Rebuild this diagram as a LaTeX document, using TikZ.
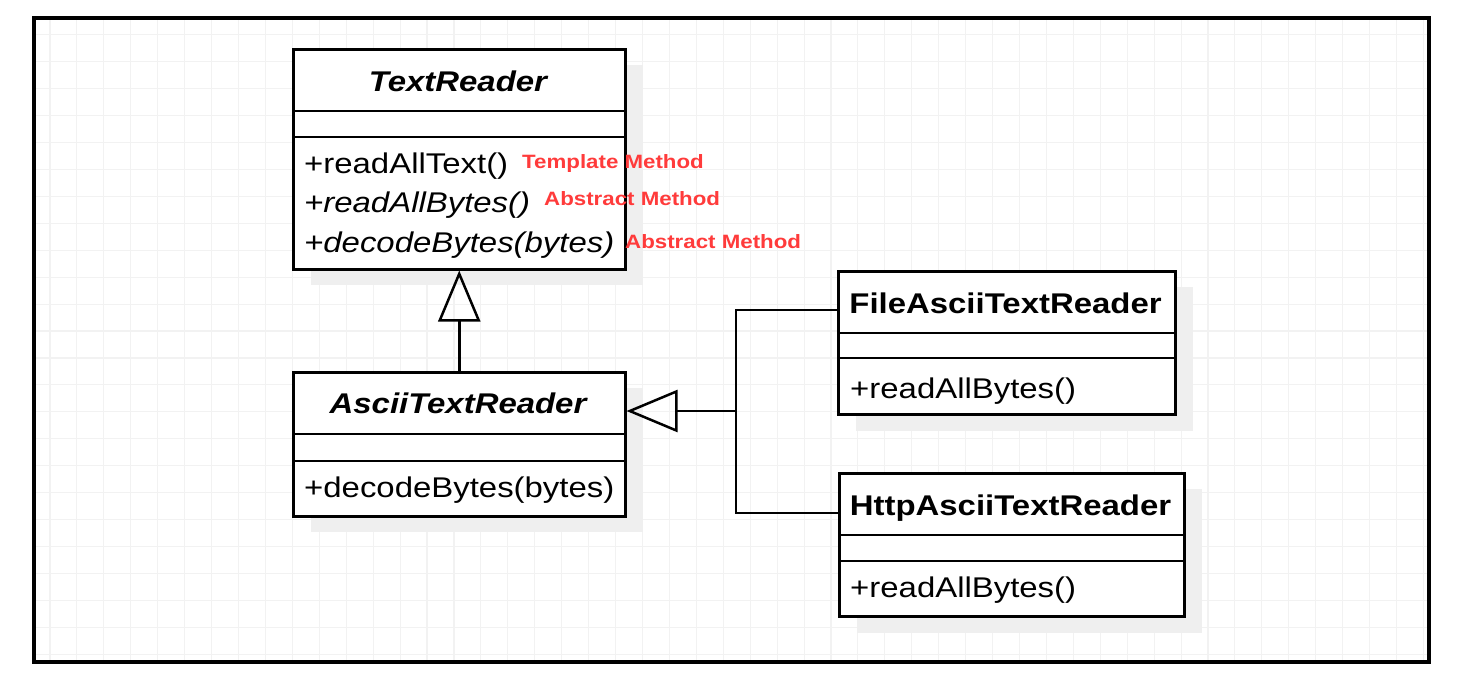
\documentclass[tikz,border=0pt]{standalone}
\usepackage{fontspec}
\setmainfont[FakeStretch=1.155]{Liberation Sans}
\usetikzlibrary{arrows.meta}
\definecolor{notered}{HTML}{FF3B3B}
\definecolor{shadowgray}{HTML}{EFEFEF}
\definecolor{gridgray}{HTML}{F2F2F2}
\begin{document}
\begin{tikzpicture}[x=1pt,y=-1pt,
  classbox/.style={draw, line width=2.5pt, fill=white, inner sep=0pt, anchor=north west},
  shadowbox/.style={fill=shadowgray, draw=none},
  sepline/.style={line width=2.2pt},
  title/.style={font=\fontsize{28.5}{34}\selectfont\bfseries, anchor=base, inner sep=0pt},
  ititle/.style={title, font=\fontsize{28.5}{34}\selectfont\bfseries\itshape},
  method/.style={font=\fontsize{28.5}{34}\selectfont, anchor=base west, inner sep=0pt},
  imethod/.style={method, font=\fontsize{28.5}{34}\selectfont\itshape},
  note/.style={font=\fontsize{19.3}{23}\selectfont\bfseries, text=notered, anchor=base west, inner sep=0pt},
  conn/.style={line width=2.5pt},
  inherit/.style={conn, -{Triangle[open, length=51pt, width=42pt]}},
  gridline/.style={gridgray, line width=1.1pt}
]
\useasboundingbox (0,0) rectangle (1458,678);
\fill[white] (0,0) rectangle (1458,678);
% grid
\begin{scope}
\clip (36,20) rectangle (1427,660);
\foreach \i in {0,...,52} \draw[gridline] ({50+26.93*\i},0) -- ({50+26.93*\i},678);
\foreach \j in {0,...,24} \draw[gridline] (0,{34.8+26.93*\j}) -- (1458,{34.8+26.93*\j});
\end{scope}
% frame
\draw[line width=4.5pt] (34,18) rectangle (1429,662);
% shadows
\fill[shadowbox] (311,65) rectangle (643,285);
\fill[shadowbox] (311,388) rectangle (643,532);
\fill[shadowbox] (856,287) rectangle (1193,431);
\fill[shadowbox] (857,489) rectangle (1202,633);
% TextReader
\node[classbox, minimum width=332pt, minimum height=220pt] (tr) at (292,48) {};
\draw[sepline] (292,111) -- (624,111);
\draw[sepline] (292,137) -- (624,137);
\node[ititle] (trt) at (458,91) {TextReader};
\node[method] (trm1) at (304,173) {+readAllText()};
\node[imethod] (trm2) at (304,212) {+readAllBytes()};
\node[imethod] (trm3) at (304,252) {+decodeBytes(bytes)};
\node[note] (n1) at (522,168) {Template Method};
\node[note] (n2) at (544,205) {Abstract Method};
\node[note] (n3) at (625,248) {Abstract Method};
% AsciiTextReader
\node[classbox, minimum width=332pt, minimum height=144pt] (ascii) at (292,371) {};
\draw[sepline] (292,434) -- (624,434);
\draw[sepline] (292,461) -- (624,461);
\node[ititle] (asciit) at (458,413) {AsciiTextReader};
\node[method] (asciim) at (304,497) {+decodeBytes(bytes)};
% FileAsciiTextReader
\node[classbox, minimum width=337pt, minimum height=143pt] (file) at (837,270) {};
\draw[sepline] (837,333) -- (1174,333);
\draw[sepline] (837,358) -- (1174,358);
\node[title] (filet) at (1005.5,313) {FileAsciiTextReader};
\node[method] (filem) at (850,398) {+readAllBytes()};
% HttpAsciiTextReader
\node[classbox, minimum width=345pt, minimum height=143pt] (http) at (838,472) {};
\draw[sepline] (838,535) -- (1183,535);
\draw[sepline] (838,561) -- (1183,561);
\node[title] (httpt) at (1010.5,515) {HttpAsciiTextReader};
\node[method] (httpm) at (850,597) {+readAllBytes()};
% connectors
\draw[inherit] (ascii.north) -- (tr.south);
\coordinate (j) at (736,411);
\coordinate (jf) at (736,310);
\coordinate (jh) at (736,513);
\draw[inherit] (j) -- (ascii.east |- j);
\draw[conn] (file.west |- jf) -- (jf) -- (jh) -- (http.west |- jh);
\end{tikzpicture}
\end{document}
